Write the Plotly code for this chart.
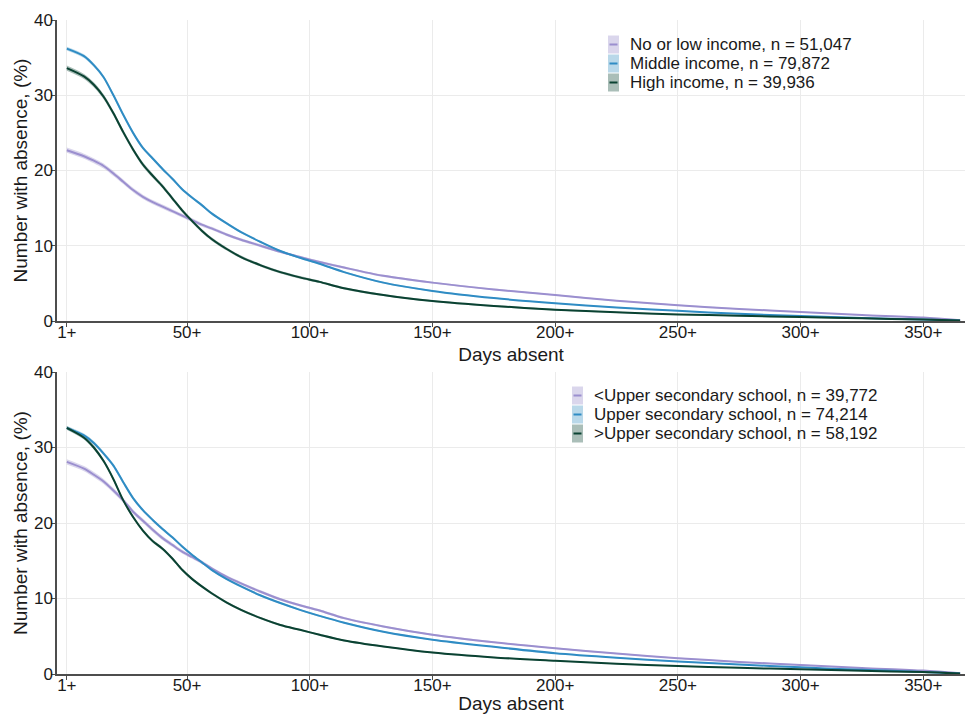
import plotly.graph_objects as go

# ---------------- data ----------------
days = [1, 8, 12, 16, 20, 24, 28, 32, 36, 40, 44, 48, 52, 56, 60, 66, 72, 80, 88,
        96, 104, 114, 130, 150, 175, 200, 225, 250, 275, 300, 325, 350, 365]
tick_vals = [1, 50, 100, 150, 200, 250, 300, 350]
tick_text = ["1+", "50+", "100+", "150+", "200+", "250+", "300+", "350+"]

# Panel 1: income
low_income = [22.7, 21.9, 21.3, 20.6, 19.6, 18.5, 17.4, 16.5, 15.8, 15.2, 14.6, 14.0, 13.4, 12.8, 12.3,
              11.5, 10.8, 10.0, 9.2, 8.5, 7.85, 7.1, 6.0, 5.1, 4.2, 3.45, 2.7, 2.1, 1.6, 1.2, 0.8, 0.45, 0.1]
middle_income = [36.2, 35.2, 34.0, 32.4, 30.0, 27.4, 25.0, 23.0, 21.6, 20.2, 18.9, 17.5, 16.4, 15.4, 14.3,
                 13.0, 11.8, 10.5, 9.3, 8.4, 7.6, 6.5, 5.1, 4.0, 3.05, 2.35, 1.8, 1.35, 0.95, 0.65, 0.4, 0.2, 0.05]
high_income = [33.6, 32.5, 31.4, 29.8, 27.6, 25.1, 22.8, 20.8, 19.3, 17.9, 16.3, 14.7, 13.3, 12.0, 10.9,
               9.6, 8.5, 7.4, 6.5, 5.8, 5.2, 4.35, 3.45, 2.65, 2.0, 1.5, 1.15, 0.88, 0.7, 0.52, 0.35, 0.2, 0.05]

# Panel 2: education
below_upper = [28.1, 27.2, 26.4, 25.5, 24.3, 23.0, 21.5, 20.3, 19.1, 18.0, 17.1, 16.2, 15.5, 14.8, 14.0,
               12.9, 12.0, 10.9, 9.9, 9.1, 8.4, 7.4, 6.3, 5.2, 4.2, 3.4, 2.7, 2.1, 1.6, 1.2, 0.8, 0.45, 0.1]
upper_sec = [32.6, 31.6, 30.6, 29.2, 27.6, 25.4, 23.3, 21.7, 20.4, 19.2, 18.1, 16.9, 15.8, 14.8, 13.8,
             12.6, 11.6, 10.4, 9.4, 8.5, 7.7, 6.8, 5.6, 4.55, 3.6, 2.75, 2.15, 1.65, 1.25, 0.88, 0.55, 0.28, 0.05]
above_upper = [32.6, 31.3, 30.0, 28.2, 25.8, 23.0, 20.8, 19.0, 17.6, 16.6, 15.3, 13.8, 12.6, 11.6, 10.7,
               9.5, 8.5, 7.4, 6.5, 5.85, 5.2, 4.45, 3.65, 2.85, 2.2, 1.75, 1.35, 1.05, 0.82, 0.62, 0.42, 0.25, 0.05]

# confidence-band half widths (percentage points)
ci_small_n = [0.35, 0.34, 0.34, 0.33, 0.32, 0.31, 0.3, 0.29, 0.28, 0.27, 0.26, 0.25, 0.24, 0.23, 0.22,
              0.21, 0.2, 0.19, 0.18, 0.17, 0.16, 0.15, 0.14, 0.12, 0.11, 0.1, 0.09, 0.08, 0.07, 0.06, 0.05, 0.04, 0.02]
ci_large_n = [0.25, 0.25, 0.25, 0.24, 0.24, 0.23, 0.22, 0.21, 0.2, 0.2, 0.19, 0.18, 0.17, 0.17, 0.16,
              0.15, 0.15, 0.14, 0.13, 0.12, 0.12, 0.11, 0.1, 0.09, 0.08, 0.07, 0.06, 0.06, 0.05, 0.04, 0.04, 0.03, 0.02]

labels_income = ["No or low income, n = 51,047", "Middle income, n = 79,872", "High income, n = 39,936"]
labels_edu = ["<Upper secondary school, n = 39,772", "Upper secondary school, n = 74,214",
              ">Upper secondary school, n = 58,192"]

line_colors = ["#9b8fcf", "#2f8cc4", "#0a4232"]
band_colors = ["rgba(158,146,206,0.38)", "rgba(54,144,192,0.35)", "rgba(11,68,51,0.35)"]

# ---------------- layout geometry ----------------
W, H = 965, 714
ML, MR, MT, MB = 57, 0, 20, 40
PW, PH = W - ML - MR, H - MT - MB


def px_x(px):
    return (px - ML) / PW


def px_y(py):
    return (H - MB - py) / PH


FONT = "Liberation Sans, Arial, sans-serif"
TXT = "#1a1a1a"
fig = go.Figure()


def add_series(y, hw, color, band, xa, ya):
    lo = [v - h for v, h in zip(y, hw)]
    hi = [v + h for v, h in zip(y, hw)]
    common = dict(x=days, xaxis=xa, yaxis=ya, showlegend=False, hoverinfo="skip")
    fig.add_trace(go.Scatter(y=lo, mode="lines",
                             line=dict(width=0, color=color, shape="spline", smoothing=0.8), **common))
    fig.add_trace(go.Scatter(y=hi, mode="lines",
                             line=dict(width=0, color=color, shape="spline", smoothing=0.8),
                             fill="tonexty", fillcolor=band, **common))


def add_line(y, color, xa, ya):
    fig.add_trace(go.Scatter(x=days, y=y, xaxis=xa, yaxis=ya, mode="lines", showlegend=False,
                             line=dict(width=2, color=color, shape="spline", smoothing=0.8)))


panels = [
    ("x", "y", [low_income, middle_income, high_income], [ci_small_n, ci_large_n, ci_small_n]),
    ("x2", "y2", [below_upper, upper_sec, above_upper], [ci_small_n, ci_large_n, ci_large_n]),
]
for xa, ya, series, cis in panels:
    for s, hw, lc, bc in zip(series, cis, line_colors, band_colors):
        add_series(s, hw, lc, bc, xa, ya)
    for s, lc in zip(series, line_colors):
        add_line(s, lc, xa, ya)

axis_common = dict(showline=True, linecolor="#4d4d4d", linewidth=1.5, showgrid=True,
                   gridcolor="#ebebeb", gridwidth=1, zeroline=False, ticks="outside",
                   ticklen=4, tickcolor="#4d4d4d", tickwidth=1,
                   tickfont=dict(family=FONT, size=17, color=TXT))
xcommon = dict(axis_common, range=[-3, 367], tickvals=tick_vals, ticktext=tick_text,
               ticklabelstandoff=-9,
               title=dict(text="Days absent", font=dict(family=FONT, size=19, color=TXT), standoff=7))
ycommon = dict(axis_common, range=[0, 40], tickvals=[0, 10, 20, 30, 40],
               ticklabelstandoff=-5,
               title=dict(text="Number with absence, (%)", font=dict(family=FONT, size=19, color=TXT),
                          standoff=1))

top_dom = [px_y(321), 1.0]
bot_dom = [0.0, px_y(372)]

fig.update_layout(
    width=W, height=H,
    margin=dict(l=ML, r=MR, t=MT, b=MB),
    paper_bgcolor="white", plot_bgcolor="white",
    showlegend=False,
    xaxis=dict(xcommon, domain=[0, 1], anchor="y"),
    yaxis=dict(ycommon, domain=top_dom, anchor="x"),
    xaxis2=dict(xcommon, domain=[0, 1], anchor="y2"),
    yaxis2=dict(ycommon, domain=bot_dom, anchor="x2"),
    font=dict(family=FONT, color=TXT),
)

# manual legends (ggplot style key: band box with line)
shapes, annos = [], []
legend_specs = [
    (labels_income, 608, 629, [44.5, 63.5, 82.5]),
    (labels_edu, 572, 593, [395.5, 414.5, 433.5]),
]
for labels, kx, tx, rows in legend_specs:
    for lab, cy, lc, bc in zip(labels, rows, line_colors, band_colors):
        shapes.append(dict(type="rect", xref="paper", yref="paper",
                           x0=px_x(kx), x1=px_x(kx + 11), y0=px_y(cy + 9), y1=px_y(cy - 9),
                           fillcolor=bc, line=dict(width=0), layer="above"))
        shapes.append(dict(type="line", xref="paper", yref="paper",
                           x0=px_x(kx + 1.5), x1=px_x(kx + 9.5), y0=px_y(cy), y1=px_y(cy),
                           line=dict(color=lc, width=2), layer="above"))
        annos.append(dict(text=lab, xref="paper", yref="paper", x=px_x(tx), y=px_y(cy),
                          xanchor="left", yanchor="middle", showarrow=False,
                          font=dict(family=FONT, size=17, color=TXT), borderpad=0))
fig.update_layout(shapes=shapes, annotations=annos)

fig.write_html("out.html")
